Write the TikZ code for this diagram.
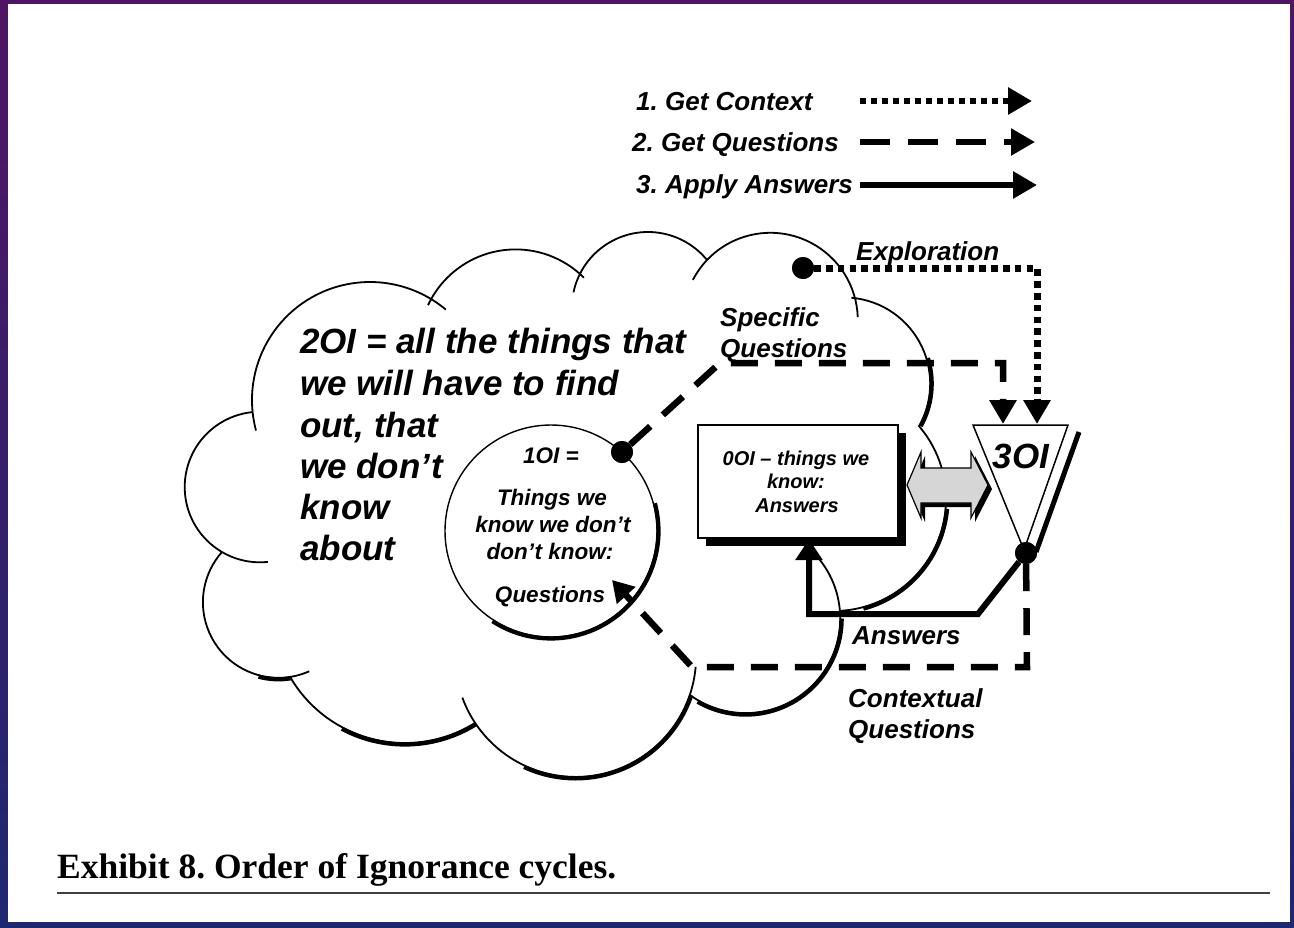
\documentclass[tikz,border=0pt]{standalone}
\usepackage{fontspec}
\setmainfont{Liberation Sans}
\newfontfamily\capfont{Liberation Serif}
\usetikzlibrary{arrows.meta,calc}
\definecolor{frametop}{RGB}{80,20,100}
\definecolor{framebot}{RGB}{30,40,112}
\definecolor{arrowgray}{RGB}{214,214,214}
\frenchspacing
\begin{document}
\begin{tikzpicture}[x=1pt,y=-1pt,
  big/.style={inner sep=0pt,anchor=base west,font=\fontsize{35}{40}\selectfont\bfseries\itshape},
  lbl/.style={inner sep=0pt,anchor=base west,font=\fontsize{26}{30}\selectfont\bfseries\itshape},
  mid/.style={inner sep=0pt,anchor=base,font=\fontsize{22.5}{26}\selectfont\bfseries\itshape},
  small/.style={inner sep=0pt,anchor=base,font=\fontsize{20}{24}\selectfont\bfseries\itshape},
  cloudline/.style={line width=1.8pt},
  shadowline/.style={line width=4.2pt},
  dotnode/.style={circle,fill=black,inner sep=0pt,minimum size=22pt},
  bigtip/.style={-{Triangle[length=24pt,width=26pt]}},
  dotconn/.style={bigtip,line width=7pt,dash pattern=on 6.5pt off 5.3pt},
  dashconn/.style={bigtip,line width=6.5pt,dash pattern=on 27pt off 17pt},
  ansconn/.style={-{Triangle[length=21pt,width=26pt]},line width=6pt},
  ctxconn/.style={-{Triangle[length=21pt,width=24pt]},line width=6.5pt,dash pattern=on 27pt off 17pt},
]
% page frame
\shade[top color=frametop,bottom color=framebot] (0,0) rectangle (1294,927);
\fill[white] (8,4) rectangle (1290,922);
\useasboundingbox (0,0) rectangle (1294,927);

% legend
\node[lbl] (l1) at (636,110) {1. Get Context};
\node[lbl] (l2) at (632,151) {2. Get Questions};
\node[lbl] (l3) at (636,193) {3. Apply Answers};
\coordinate (l1a) at (860,101); \coordinate (l1b) at (1032,101);
\coordinate (l2a) at (860,142); \coordinate (l2b) at (1035,142);
\coordinate (l3a) at (860,185); \coordinate (l3b) at (1037,185);
\draw[bigtip,line width=6pt,dash pattern=on 6pt off 5pt] (l1a) -- (l1b);
\draw[bigtip,line width=5.5pt,dash pattern=on 30pt off 18pt] (l2a) -- (l2b);
\draw[bigtip,line width=6pt] (l3a) -- (l3b);

% cloud outline, bump by bump
\draw[cloudline]
  ([shift={(165:118)}]370,400) arc[start angle=165,end angle=310,radius=118]
  ([shift={(205:96.6)}]515.6,346) arc[start angle=205,end angle=315,radius=96.6]
  ([shift={(192:76.2)}]648,308.2) arc[start angle=192,end angle=321,radius=76.2]
  ([shift={(207.5:87.4)}]770.4,320.2) arc[start angle=207.5,end angle=358,radius=87.4]
  ([shift={(275:86.3)}]843.9,383.7) arc[start angle=275,end angle=390,radius=86.3]
  ([shift={(320:112)}]834,499) arc[start angle=320,end angle=447,radius=112]
  ([shift={(318:94.6)}]745.6,618.5) arc[start angle=318,end angle=486,radius=94.6]
  ([shift={(5:120.5)}]575.6,656.4) arc[start angle=5,end angle=160,radius=120.5]
  ([shift={(58:132.8)}]404.9,610.2) arc[start angle=58,end angle=150,radius=132.8]
  ([shift={(66:75.6)}]278.5,602.2) arc[start angle=66,end angle=222,radius=75.6]
  ([shift={(84:75.3)}]260,487) arc[start angle=84,end angle=265,radius=75.3];
% heavier lower edges of the cloud
\draw[shadowline]
  ([shift={(343:87.8)}]843.9,383.7) arc[start angle=343,end angle=389,radius=87.8]
  ([shift={(5:113.5)}]834,499) arc[start angle=5,end angle=75,radius=113.5]
  ([shift={(360:96.1)}]745.6,618.5) arc[start angle=360,end angle=480,radius=96.1]
  ([shift={(18.6:122)}]575.6,656.4) arc[start angle=18.6,end angle=115,radius=122]
  ([shift={(58:134.3)}]404.9,610.2) arc[start angle=58,end angle=118,radius=134.3]
  ([shift={(81:77.1)}]278.5,602.2) arc[start angle=81,end angle=105,radius=77.1];

% 1OI circle
\draw[line width=1.4pt] (551,531) circle[radius=106];
\draw[shadowline] ([shift={(-15:107.5)}]551,531) arc[start angle=-15,end angle=123,radius=107.5];

% 0OI box with its shadow
\fill (706,433) rectangle (906,546);
\node[draw,line width=2pt,fill=white,minimum width=200pt,minimum height=113pt,inner sep=0pt] (box) at (798,481.5) {};

% 3OI funnel with its shadow stroke
\coordinate (t1) at (973,425); \coordinate (t2) at (1068,425); \coordinate (t3) at (1024,550);
\coordinate (ts1) at (1079,432); \coordinate (ts2) at (1036,552);
\draw[line width=5pt] (ts1) -- (ts2);
\draw[line width=1.5pt,fill=white] (t1) -- (t2) -- (t3) -- cycle;

% dots
\node[dotnode] (dE) at (803,268) {};
\node[dotnode] (dQ) at (622,452) {};
\node[dotnode] (dT) at (1026,553) {};

% connectors
\coordinate (eC) at (1037,268); \coordinate (eEnd) at (1037,424);
\draw[dotconn] (dE.east) -- (eC) -- (eEnd);
\coordinate (sC1) at (720,363); \coordinate (sC2) at (1003,363); \coordinate (sEnd) at (1003,424);
\draw[dashconn] (dQ) -- (sC1) -- (sC2) -- (sEnd);
\coordinate (aC1) at (978,614); \coordinate (aC2) at (809,614);
\draw[ansconn] (dT) -- (aC1) -- (aC2) -- (aC2 |- box.south);
\coordinate (cC1) at (1027,667); \coordinate (cC2) at (692,667); \coordinate (cEnd) at (612,580);
\draw[ctxconn] (dT) -- (cC1) -- (cC2) -- (cEnd);
\node[dotnode] at (dT) {};
\node[dotnode] at (dQ) {};
\node[dotnode] at (dE) {};

% two-way arrow between 0OI and 3OI
\fill[shift={(4,4)}] (907,485) -- (921,452) -- (921,468) -- (971,468) -- (971,452) -- (988,485)
  -- (971,518) -- (971,503) -- (921,503) -- (921,518) -- cycle;
\draw[line width=1.2pt,fill=arrowgray] (907,485) -- (921,452) -- (921,468) -- (971,468) -- (971,452) -- (988,485)
  -- (971,518) -- (971,503) -- (921,503) -- (921,518) -- cycle;

% texts
\node[big] at (300,353) {2OI = all the things that};
\node[big] at (300,395) {we will have to find};
\node[big] at (300,437) {out, that};
\node[big] at (300,478) {we don’t};
\node[big] at (300,519) {know};
\node[big] at (300,560) {about};

\node[mid] at (551,463) {1OI =};
\node[mid] at (552,505) {Things we};
\node[mid] at (553,532) {know we don’t};
\node[mid] at (550,559) {don’t know:};
\node[mid] at (550,602) {Questions};

\node[small] at (796,465) {0OI – things we};
\node[small] at (796,488) {know:};
\node[small] at (797,512) {Answers};

\node[inner sep=0pt,anchor=base,font=\fontsize{35}{40}\selectfont\bfseries\itshape] at (1021,468) {3OI};

\node[lbl] at (856,260) {Exploration};
\node[lbl] at (720,326) {Specific};
\node[lbl] at (720,357) {Questions};
\node[lbl] at (852,644) {Answers};
\node[lbl] at (848,707) {Contextual};
\node[lbl] at (848,738) {Questions};

% caption and rule
\node[inner sep=0pt,anchor=base west,font=\capfont\fontsize{35.5}{40}\selectfont\bfseries] (cap) at (57,878) {Exhibit 8. Order of Ignorance cycles.};
\coordinate (r1) at (57,893); \coordinate (r2) at (1270,893);
\draw[line width=2.2pt,black!75] (r1) -- (r2);
\end{tikzpicture}
\end{document}
